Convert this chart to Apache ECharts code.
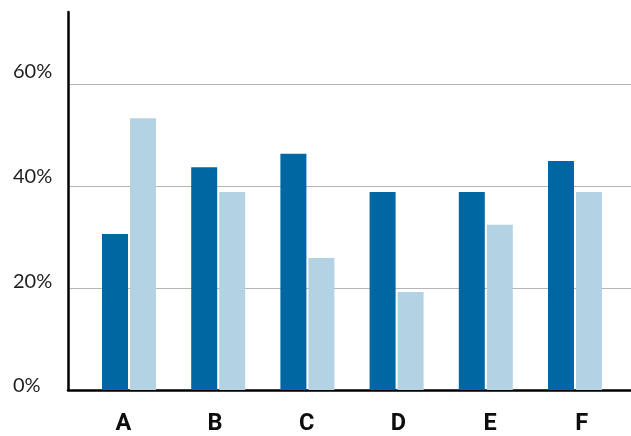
<!DOCTYPE html>
<html>
<head>
<meta charset="utf-8">
<script src="https://cdn.jsdelivr.net/npm/echarts@6/dist/echarts.min.js"></script>
<style>
html,body{margin:0;padding:0;background:#fff;}
#chart{width:631px;height:436px;}
</style>
</head>
<body>
<div id="chart"></div>
<script>
const categories = ['A', 'B', 'C', 'D', 'E', 'F'];
const seriesDark = [30.6, 43.7, 46.3, 38.8, 38.8, 44.9];
const seriesLight = [53.3, 38.8, 25.9, 19.2, 32.4, 38.8];
const yTicks = [0, 20, 40, 60];

const chart = echarts.init(document.getElementById('chart'), null, {renderer: 'canvas'});
const hidden = {show: false};
const yMax = yTicks[yTicks.length - 1];
const yInterval = yTicks[1] - yTicks[0];

const option = {
  animation: false,
  backgroundColor: '#ffffff',
  grid: [
    {left: 68, right: 0, top: 12, bottom: 46},
    {left: 68, right: 0, top: 84, bottom: 46},
    {left: 84.4, right: 11.4, top: 84, bottom: 46},
    {left: 77.5, right: 3.5, top: 72, bottom: 44}
  ],
  xAxis: [
    {gridIndex: 0, type: 'category', data: categories,
     axisLine: {show: true, lineStyle: {color: '#000', width: 2.5}},
     axisTick: hidden, axisLabel: hidden, splitLine: hidden},
    {gridIndex: 1, type: 'category', data: categories,
     axisLine: hidden, axisTick: hidden, axisLabel: hidden, splitLine: hidden},
    {gridIndex: 2, type: 'category', data: categories,
     axisLine: hidden, axisTick: hidden, axisLabel: hidden, splitLine: hidden},
    {gridIndex: 3, type: 'category', data: categories,
     axisLine: hidden, axisTick: hidden, splitLine: hidden,
     axisLabel: {show: true, margin: 26, fontFamily: 'Roboto', fontWeight: 'bold',
                 fontSize: 23.5, color: '#0d0d0d'}}
  ],
  yAxis: [
    {gridIndex: 0, type: 'value', min: 0, max: 1,
     axisLine: {show: true, lineStyle: {color: '#000', width: 2.5}},
     axisTick: hidden, axisLabel: hidden, splitLine: hidden},
    {gridIndex: 1, type: 'value', min: 0, max: yMax, interval: yInterval,
     axisLine: hidden, axisTick: hidden, axisLabel: hidden,
     splitLine: {show: true, lineStyle: {color: '#b5b5b5', width: 1.2}}},
    {gridIndex: 2, type: 'value', min: 0, max: yMax, interval: yInterval,
     axisLine: hidden, axisTick: hidden, axisLabel: hidden, splitLine: hidden},
    {gridIndex: 3, type: 'value', min: 0, max: yMax, interval: yInterval,
     axisLine: hidden, axisTick: hidden, splitLine: hidden,
     axisLabel: {show: true, align: 'left', margin: 64.5, fontFamily: 'Lato',
                 fontSize: 20, color: '#1e1e1e', formatter: v => v + '%'}}
  ],
  series: [
    {type: 'bar', xAxisIndex: 2, yAxisIndex: 2, data: seriesDark,
     barWidth: 26, barGap: '7.7%', itemStyle: {color: '#0067a2'}, z: 3},
    {type: 'bar', xAxisIndex: 2, yAxisIndex: 2, data: seriesLight,
     barWidth: 26, barGap: '7.7%', itemStyle: {color: '#b3d2e4'}, z: 3}
  ]
};
chart.setOption(option);
</script>
</body>
</html>
